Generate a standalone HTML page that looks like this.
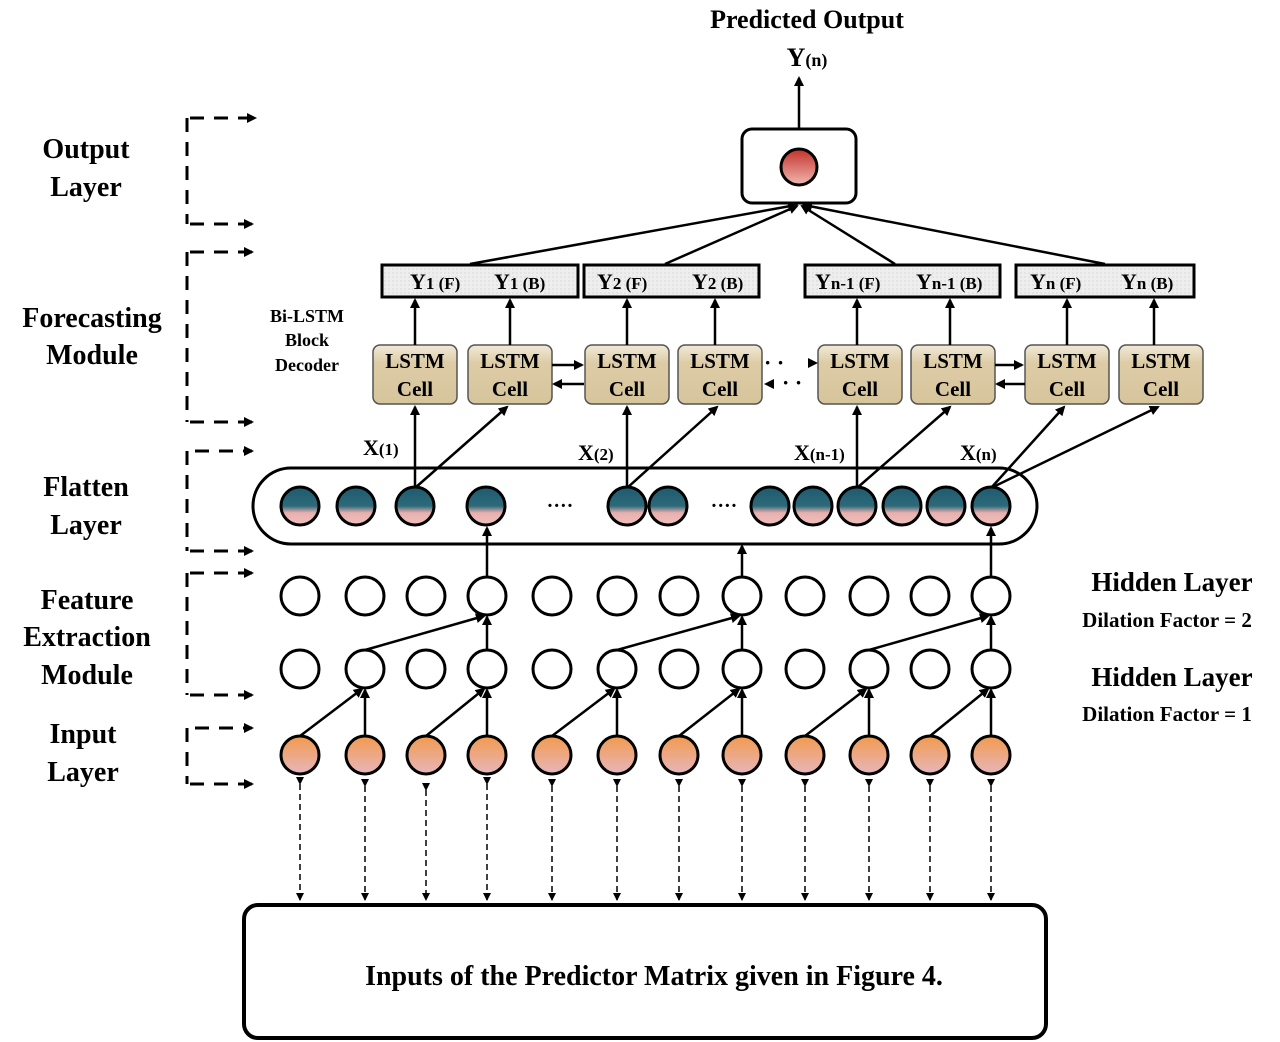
<!DOCTYPE html>
<html><head><meta charset="utf-8"><style>
html,body{margin:0;padding:0;background:#fff}
svg{display:block}
text{font-family:"Liberation Serif",serif;font-weight:bold;fill:#000}
</style></head><body>
<svg width="1280" height="1042" viewBox="0 0 1280 1042" xmlns="http://www.w3.org/2000/svg">
<defs>
<marker id="a" markerWidth="10" markerHeight="10" refX="8" refY="5" orient="auto" markerUnits="userSpaceOnUse"><path d="M0,0 L10,5 L0,10 z" fill="#000"/></marker>
<marker id="s" markerWidth="8" markerHeight="8" refX="7" refY="4" orient="auto" markerUnits="userSpaceOnUse"><path d="M0,0 L8,4 L0,8 z" fill="#000"/></marker>
<linearGradient id="teal" x1="0" y1="0" x2="0" y2="1"><stop offset="0" stop-color="#1f5a6e"/><stop offset="0.5" stop-color="#2c6a7a"/><stop offset="0.68" stop-color="#e8b0ae"/><stop offset="1" stop-color="#f0c0bc"/></linearGradient>
<linearGradient id="org" x1="0" y1="0" x2="0" y2="1"><stop offset="0" stop-color="#f29a4e"/><stop offset="1" stop-color="#e6b6bc"/></linearGradient>
<linearGradient id="red" x1="0" y1="0" x2="0" y2="1"><stop offset="0" stop-color="#c2302a"/><stop offset="1" stop-color="#f0b8b0"/></linearGradient>
<linearGradient id="tan" x1="0" y1="0" x2="0" y2="1"><stop offset="0" stop-color="#f2ead8"/><stop offset="0.3" stop-color="#ddcca6"/><stop offset="1" stop-color="#d6c49c"/></linearGradient>
<pattern id="dot" width="4" height="4" patternUnits="userSpaceOnUse"><rect width="4" height="4" fill="#eeeeee"/><circle cx="1" cy="1" r="0.6" fill="#c8c8c8"/></pattern>
</defs>

<!-- title -->
<text x="807" y="28" font-size="26" text-anchor="middle">Predicted Output</text>
<text x="807" y="66" font-size="26" text-anchor="middle">Y<tspan font-size="18">(n)</tspan></text>
<line x1="799" y1="128" x2="799" y2="78" stroke="#000" stroke-width="2.5" marker-end="url(#a)"/>
<rect x="742" y="129" width="114" height="74" rx="10" fill="#fff" stroke="#000" stroke-width="3"/>
<circle cx="799" cy="167" r="18" fill="url(#red)" stroke="#000" stroke-width="3"/>

<!-- Y boxes to output -->
<g stroke="#000" stroke-width="2.5" fill="none">
<line x1="470" y1="264" x2="796" y2="205" marker-end="url(#a)"/>
<line x1="665" y1="264" x2="797" y2="206" marker-end="url(#a)"/>
<line x1="895" y1="264" x2="802" y2="206" marker-end="url(#a)"/>
<line x1="1105" y1="264" x2="804" y2="205" marker-end="url(#a)"/>
</g>
<g stroke="#000" stroke-width="3" fill="url(#dot)">
<rect x="382" y="265" width="196" height="32"/>
<rect x="584" y="265" width="175" height="32"/>
<rect x="805" y="265" width="195" height="32"/>
<rect x="1016" y="265" width="178" height="32"/>
</g>
<g font-size="22">
<text x="410" y="289">Y<tspan font-size="17">1 (F)</tspan></text>
<text x="494" y="289">Y<tspan font-size="17">1 (B)</tspan></text>
<text x="597" y="289">Y<tspan font-size="17">2 (F)</tspan></text>
<text x="692" y="289">Y<tspan font-size="17">2 (B)</tspan></text>
<text x="815" y="289">Y<tspan font-size="17">n-1 (F)</tspan></text>
<text x="916" y="289">Y<tspan font-size="17">n-1 (B)</tspan></text>
<text x="1030" y="289">Y<tspan font-size="17">n (F)</tspan></text>
<text x="1121" y="289">Y<tspan font-size="17">n (B)</tspan></text>
</g>

<!-- LSTM cells -->
<g>
<g stroke="#555" stroke-width="1.5" fill="url(#tan)">
<rect x="373" y="345" width="84" height="59" rx="7"/>
<rect x="468" y="345" width="84" height="59" rx="7"/>
<rect x="585" y="345" width="84" height="59" rx="7"/>
<rect x="678" y="345" width="84" height="59" rx="7"/>
<rect x="818" y="345" width="84" height="59" rx="7"/>
<rect x="911" y="345" width="84" height="59" rx="7"/>
<rect x="1025" y="345" width="84" height="59" rx="7"/>
<rect x="1119" y="345" width="84" height="59" rx="7"/>
</g>
<g font-size="21" text-anchor="middle">
<text x="415" y="368">LSTM</text><text x="415" y="396">Cell</text>
<text x="510" y="368">LSTM</text><text x="510" y="396">Cell</text>
<text x="627" y="368">LSTM</text><text x="627" y="396">Cell</text>
<text x="720" y="368">LSTM</text><text x="720" y="396">Cell</text>
<text x="860" y="368">LSTM</text><text x="860" y="396">Cell</text>
<text x="953" y="368">LSTM</text><text x="953" y="396">Cell</text>
<text x="1067" y="368">LSTM</text><text x="1067" y="396">Cell</text>
<text x="1161" y="368">LSTM</text><text x="1161" y="396">Cell</text>
</g>
</g>
<g stroke="#000" stroke-width="2.5">
<line x1="415" y1="345" x2="415" y2="300" marker-end="url(#a)"/>
<line x1="510" y1="345" x2="510" y2="300" marker-end="url(#a)"/>
<line x1="627" y1="345" x2="627" y2="300" marker-end="url(#a)"/>
<line x1="715" y1="345" x2="715" y2="300" marker-end="url(#a)"/>
<line x1="857" y1="345" x2="857" y2="300" marker-end="url(#a)"/>
<line x1="950" y1="345" x2="950" y2="300" marker-end="url(#a)"/>
<line x1="1067" y1="345" x2="1067" y2="300" marker-end="url(#a)"/>
<line x1="1154" y1="345" x2="1154" y2="300" marker-end="url(#a)"/>
<line x1="552" y1="365" x2="582" y2="365" marker-end="url(#a)"/>
<line x1="584" y1="384" x2="554" y2="384" marker-end="url(#a)"/>
<line x1="995" y1="365" x2="1022" y2="365" marker-end="url(#a)"/>
<line x1="1025" y1="384" x2="997" y2="384" marker-end="url(#a)"/>
</g>
<g font-size="22">
<text x="764" y="370">·  ·</text><text x="782" y="390">·  ·</text>
</g>
<path d="M808,358 L818,363 L808,368 z"/><path d="M774,379 L764,384 L774,389 z"/>
<text x="307" y="322" font-size="18" text-anchor="middle">Bi-LSTM</text>
<text x="307" y="346" font-size="18" text-anchor="middle">Block</text>
<text x="307" y="371" font-size="18" text-anchor="middle">Decoder</text>

<!-- X labels -->
<text x="363" y="455" font-size="22">X<tspan font-size="17">(1)</tspan></text>
<text x="578" y="460" font-size="22">X<tspan font-size="17">(2)</tspan></text>
<text x="794" y="460" font-size="22">X<tspan font-size="17">(n-1)</tspan></text>
<text x="960" y="460" font-size="22">X<tspan font-size="17">(n)</tspan></text>

<!-- flatten to LSTM -->
<g stroke="#000" stroke-width="2.5">
<line x1="415" y1="488" x2="415" y2="407" marker-end="url(#a)"/>
<line x1="415" y1="488" x2="507" y2="407" marker-end="url(#a)"/>
<line x1="627" y1="488" x2="627" y2="407" marker-end="url(#a)"/>
<line x1="627" y1="488" x2="717" y2="407" marker-end="url(#a)"/>
<line x1="857" y1="488" x2="857" y2="407" marker-end="url(#a)"/>
<line x1="857" y1="488" x2="950" y2="407" marker-end="url(#a)"/>
<line x1="991" y1="488" x2="1064" y2="407" marker-end="url(#a)"/>
<line x1="991" y1="488" x2="1158" y2="407" marker-end="url(#a)"/>
</g>

<!-- flatten layer -->
<rect x="253" y="468" width="784" height="76" rx="38" fill="none" stroke="#000" stroke-width="3"/>
<g stroke="#000" stroke-width="3" fill="url(#teal)">
<circle cx="300" cy="506" r="19"/><circle cx="356" cy="506" r="19"/><circle cx="415" cy="506" r="19"/><circle cx="486" cy="506" r="19"/>
<circle cx="627" cy="506" r="19"/><circle cx="668" cy="506" r="19"/>
<circle cx="770" cy="506" r="19"/><circle cx="813" cy="506" r="19"/><circle cx="857" cy="506" r="19"/><circle cx="902" cy="506" r="19"/><circle cx="946" cy="506" r="19"/><circle cx="991" cy="506" r="19"/>
</g>
<text x="560" y="512" font-size="20" text-anchor="middle">····</text>
<text x="724" y="512" font-size="20" text-anchor="middle">····</text>

<!-- hidden2 to flatten -->
<g stroke="#000" stroke-width="2.5">
<line x1="487" y1="577" x2="487" y2="528" marker-end="url(#a)"/>
<line x1="742" y1="577" x2="742" y2="546" marker-end="url(#a)"/>
<line x1="991" y1="577" x2="991" y2="528" marker-end="url(#a)"/>
</g>

<!-- feature extraction connections -->
<g stroke="#000" stroke-width="2.5">
<line x1="365" y1="650" x2="484" y2="616" marker-end="url(#a)"/>
<line x1="487" y1="650" x2="487" y2="617" marker-end="url(#a)"/>
<line x1="617" y1="650" x2="739" y2="616" marker-end="url(#a)"/>
<line x1="742" y1="650" x2="742" y2="617" marker-end="url(#a)"/>
<line x1="869" y1="650" x2="988" y2="616" marker-end="url(#a)"/>
<line x1="991" y1="650" x2="991" y2="617" marker-end="url(#a)"/>

<line x1="300" y1="736" x2="362" y2="689" marker-end="url(#a)"/>
<line x1="365" y1="736" x2="365" y2="690" marker-end="url(#a)"/>
<line x1="426" y1="736" x2="484" y2="689" marker-end="url(#a)"/>
<line x1="487" y1="736" x2="487" y2="690" marker-end="url(#a)"/>
<line x1="552" y1="736" x2="614" y2="689" marker-end="url(#a)"/>
<line x1="617" y1="736" x2="617" y2="690" marker-end="url(#a)"/>
<line x1="679" y1="736" x2="739" y2="689" marker-end="url(#a)"/>
<line x1="742" y1="736" x2="742" y2="690" marker-end="url(#a)"/>
<line x1="805" y1="736" x2="866" y2="689" marker-end="url(#a)"/>
<line x1="869" y1="736" x2="869" y2="690" marker-end="url(#a)"/>
<line x1="930" y1="736" x2="988" y2="689" marker-end="url(#a)"/>
<line x1="991" y1="736" x2="991" y2="690" marker-end="url(#a)"/>
</g>
<g stroke="#000" stroke-width="3" fill="#fff" id="h">
<circle cx="300" cy="596" r="19"/><circle cx="365" cy="596" r="19"/><circle cx="426" cy="596" r="19"/><circle cx="487" cy="596" r="19"/><circle cx="552" cy="596" r="19"/><circle cx="617" cy="596" r="19"/><circle cx="679" cy="596" r="19"/><circle cx="742" cy="596" r="19"/><circle cx="805" cy="596" r="19"/><circle cx="869" cy="596" r="19"/><circle cx="930" cy="596" r="19"/><circle cx="991" cy="596" r="19"/>
<circle cx="300" cy="669" r="19"/><circle cx="365" cy="669" r="19"/><circle cx="426" cy="669" r="19"/><circle cx="487" cy="669" r="19"/><circle cx="552" cy="669" r="19"/><circle cx="617" cy="669" r="19"/><circle cx="679" cy="669" r="19"/><circle cx="742" cy="669" r="19"/><circle cx="805" cy="669" r="19"/><circle cx="869" cy="669" r="19"/><circle cx="930" cy="669" r="19"/><circle cx="991" cy="669" r="19"/>
</g>
<g stroke="#000" stroke-width="3" fill="url(#org)">
<circle cx="300" cy="755" r="19"/><circle cx="365" cy="755" r="19"/><circle cx="426" cy="755" r="19"/><circle cx="487" cy="755" r="19"/><circle cx="552" cy="755" r="19"/><circle cx="617" cy="755" r="19"/><circle cx="679" cy="755" r="19"/><circle cx="742" cy="755" r="19"/><circle cx="805" cy="755" r="19"/><circle cx="869" cy="755" r="19"/><circle cx="930" cy="755" r="19"/><circle cx="991" cy="755" r="19"/>
</g>

<!-- dashed bidirectional -->
<g stroke="#000" stroke-width="1.5" stroke-dasharray="6,4">
<line x1="300" y1="784" x2="300" y2="900" marker-start="url(#s)" marker-end="url(#s)"/>
<line x1="365" y1="786" x2="365" y2="900" marker-start="url(#s)" marker-end="url(#s)"/>
<line x1="426" y1="790" x2="426" y2="900" marker-start="url(#s)" marker-end="url(#s)"/>
<line x1="487" y1="784" x2="487" y2="900" marker-start="url(#s)" marker-end="url(#s)"/>
<line x1="552" y1="786" x2="552" y2="900" marker-start="url(#s)" marker-end="url(#s)"/>
<line x1="617" y1="786" x2="617" y2="900" marker-start="url(#s)" marker-end="url(#s)"/>
<line x1="679" y1="786" x2="679" y2="900" marker-start="url(#s)" marker-end="url(#s)"/>
<line x1="742" y1="786" x2="742" y2="900" marker-start="url(#s)" marker-end="url(#s)"/>
<line x1="805" y1="786" x2="805" y2="900" marker-start="url(#s)" marker-end="url(#s)"/>
<line x1="869" y1="786" x2="869" y2="900" marker-start="url(#s)" marker-end="url(#s)"/>
<line x1="930" y1="786" x2="930" y2="900" marker-start="url(#s)" marker-end="url(#s)"/>
<line x1="991" y1="786" x2="991" y2="900" marker-start="url(#s)" marker-end="url(#s)"/>
</g>
<rect x="244" y="905" width="802" height="133" rx="14" fill="#fff" stroke="#000" stroke-width="4"/>
<text x="654" y="985" font-size="28" text-anchor="middle">Inputs of the Predictor Matrix given in Figure 4.</text>

<!-- right labels -->
<text x="1172" y="591" font-size="27" text-anchor="middle">Hidden Layer</text>
<text x="1167" y="627" font-size="21" text-anchor="middle">Dilation Factor = 2</text>
<text x="1172" y="686" font-size="27" text-anchor="middle">Hidden Layer</text>
<text x="1167" y="721" font-size="21" text-anchor="middle">Dilation Factor = 1</text>

<!-- left labels -->
<g font-size="28" text-anchor="middle">
<text x="86" y="158">Output</text><text x="86" y="196">Layer</text>
<text x="92" y="327">Forecasting</text><text x="92" y="364">Module</text>
<text x="86" y="496">Flatten</text><text x="86" y="534">Layer</text>
<text x="87" y="609">Feature</text><text x="87" y="646">Extraction</text><text x="87" y="684">Module</text>
<text x="83" y="743">Input</text><text x="83" y="781">Layer</text>
</g>
<g stroke="#000" stroke-width="3" fill="none" stroke-dasharray="14,10">
<path d="M187,118 V224"/><path d="M187,252 V422"/><path d="M187,451 V551"/><path d="M187,573 V695"/><path d="M187,728 V784"/>
</g>
<g stroke="#000" stroke-width="3" stroke-dasharray="14,10">
<line x1="190" y1="118" x2="255" y2="118" marker-end="url(#a)"/>
<line x1="190" y1="224" x2="252" y2="224" marker-end="url(#a)"/>
<line x1="190" y1="252" x2="252" y2="252" marker-end="url(#a)"/>
<line x1="190" y1="422" x2="252" y2="422" marker-end="url(#a)"/>
<line x1="195" y1="451" x2="252" y2="451" marker-end="url(#a)"/>
<line x1="190" y1="551" x2="252" y2="551" marker-end="url(#a)"/>
<line x1="190" y1="573" x2="252" y2="573" marker-end="url(#a)"/>
<line x1="190" y1="695" x2="252" y2="695" marker-end="url(#a)"/>
<line x1="195" y1="728" x2="252" y2="728" marker-end="url(#a)"/>
<line x1="190" y1="784" x2="252" y2="784" marker-end="url(#a)"/>
</g>
</svg>
</body></html>
